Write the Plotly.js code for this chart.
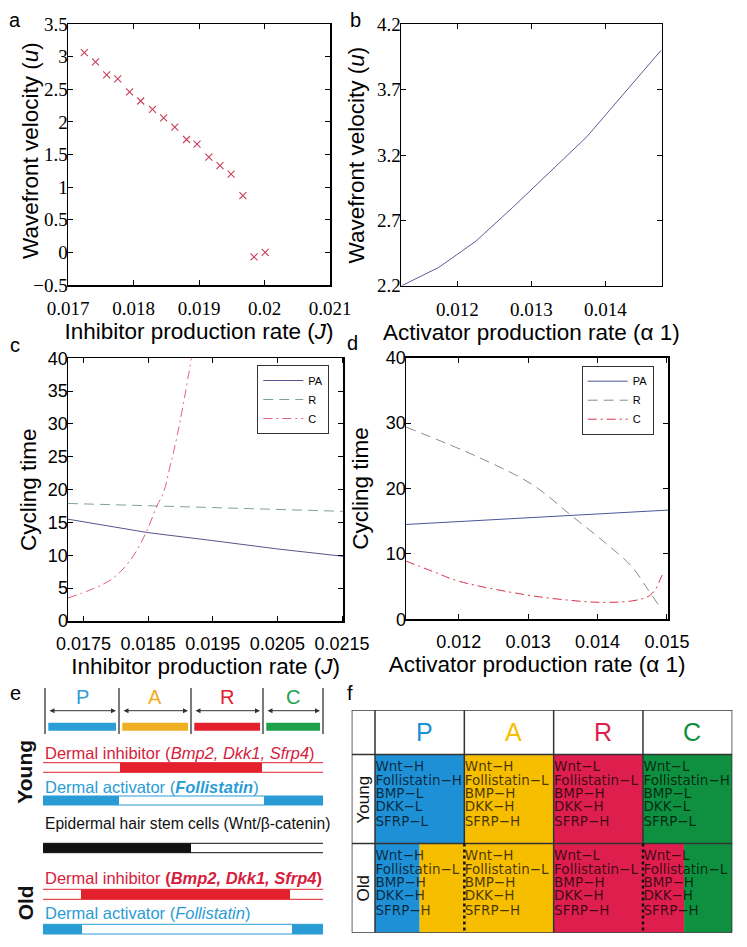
<!DOCTYPE html>
<html><head><meta charset="utf-8">
<script src="https://cdn.plot.ly/plotly-3.0.1.min.js"></script>
<style>body{margin:0;background:#fff}#chart{width:747px;height:947px}</style>
</head><body><div id="chart"></div>
<script>
// ================= DATA =================
// Panel a: wavefront velocity vs inhibitor production rate J
const aJ = [0.01725,0.01742,0.01759,0.01776,0.01794,0.01811,0.01829,0.01846,0.01863,0.01881,0.01897,0.01915,0.01932,0.01949,0.01967,0.01984,0.02001];
const aU = [3.06,2.92,2.72,2.66,2.46,2.32,2.19,2.06,1.92,1.73,1.66,1.46,1.33,1.20,0.87,-0.07,0.00];
const aXTicks = [0.017,0.018,0.019,0.020,0.021];
const aXTickText = ['0.017','0.018','0.019','0.02','0.021'];
const aYTicks = [-0.5,0,0.5,1,1.5,2,2.5,3,3.5];
const aYTickText = ['\u22120.5','0','0.5','1','1.5','2','2.5','3','3.5'];

// Panel b: wavefront velocity vs activator production rate alpha1
const bAlpha = [0.01125,0.01175,0.01225,0.01275,0.01325,0.01375,0.01425,0.01475];
const bU = [2.20,2.34,2.54,2.80,3.07,3.34,3.67,4.00];
const bXTicks = [0.012,0.013,0.014];
const bXTickText = ['0.012','0.013','0.014'];
const bYTicks = [2.2,2.7,3.2,3.7,4.2];
const bYTickText = ['2.2','2.7','3.2','3.7','4.2'];

// Panel c: cycling time vs J
const cJ_PA = [0.01726,0.0185,0.0195,0.0205,0.02152];
const cPA   = [15.5,13.45,12.24,10.97,9.85];
const cJ_R  = [0.01726,0.0195,0.02152];
const cR    = [17.9,17.3,16.7];
const cJ_C  = [0.01726,0.01791,0.01822,0.01846,0.01864,0.01874,0.01884,0.01890,0.01900,0.01917];
const cC    = [3.5,6.2,9.2,13.3,17.6,19.6,23.6,26.0,30.7,40.0];
const cXTicks = [0.0175,0.0185,0.0195,0.0205,0.0215];
const cXTickText = ['0.0175','0.0185','0.0195','0.0205','0.0215'];
const cYTicks = [0,5,10,15,20,25,30,35,40];

// Panel d: cycling time vs alpha1
const dA_PA = [0.01124,0.01363,0.01502];
const dPA   = [14.5,15.9,16.7];
const dA_R  = [0.01124,0.01230,0.01306,0.01363,0.01411,0.01449,0.01473,0.01488];
const dR    = [29.4,24.7,20.6,15.8,11.7,8.1,4.5,2.2];
const dA_C  = [0.01124,0.01163,0.01201,0.01297,0.01354,0.01402,0.01449,0.01473,0.01483,0.01492,0.01496];
const dC    = [8.9,7.3,5.8,3.74,2.97,2.6,2.8,3.5,4.5,6.5,7.3];
const dXTicks = [0.012,0.013,0.014,0.015];
const dXTickText = ['0.012','0.013','0.014','0.015'];
const dYTicks = [0,10,20,30,40];

const seriesNames = ['PA','R','C'];

// Panel e: phase diagram (phase extents along the cycle, as drawn)
const phases = ['P','A','R','C'];
const phaseEdges = [0, 74, 146, 218, 278];
const trackExtent = [-2, 278];
const youngInhibitorHigh = [[75, 217]];
const youngActivatorHigh = [[-2, 74], [219, 278]];
const wntHigh = [[-2, 146]];
const oldInhibitorHigh = [[36, 245]];
const oldActivatorHigh = [[-2, 37], [247, 278]];

// Panel f: state table
const youngStates = [
  ['Wnt\u2212H','Follistatin\u2212H','BMP\u2212L','DKK\u2212L','SFRP\u2212L'],
  ['Wnt\u2212H','Follistatin\u2212L','BMP\u2212H','DKK\u2212H','SFRP\u2212H'],
  ['Wnt\u2212L','Follistatin\u2212L','BMP\u2212H','DKK\u2212H','SFRP\u2212H'],
  ['Wnt\u2212L','Follistatin\u2212H','BMP\u2212L','DKK\u2212L','SFRP\u2212L']];
const oldStates = [
  ['Wnt\u2212H','Follistatin\u2212L','BMP\u2212H','DKK\u2212H','SFRP\u2212H'],
  ['Wnt\u2212H','Follistatin\u2212L','BMP\u2212H','DKK\u2212H','SFRP\u2212H'],
  ['Wnt\u2212L','Follistatin\u2212L','BMP\u2212H','DKK\u2212H','SFRP\u2212H'],
  ['Wnt\u2212L','Follistatin\u2212L','BMP\u2212H','DKK\u2212H','SFRP\u2212H']];
// old-row cells split between two phase colours: [left phase, right phase, split fraction]
const oldCellPhases = [['P','A',0.5],['A','A',1],['R','R',1],['R','C',0.46]];
const oldDottedBoundaries = [1, 3];

// ================= STYLE / LAYOUT =================
const W = 747, H = 947;
const px = v => v / W;
const py = v => 1 - v / H;
const SANS = 'Liberation Sans, Arial, sans-serif';
const SERIF = 'Liberation Serif, Times New Roman, serif';

const eCol = {P:'#2B9ED8', A:'#F0AE22', R:'#E3202C', C:'#1DA04C'};
const fCol = {P:'#1E90D6', A:'#F7BE00', R:'#DE1F4E', C:'#0E9040'};
const inhibRed = '#E3202C', inhibText = '#D6203C', actBlue = '#2A9CD5';

const axBase = {showline:true, linecolor:'#000', linewidth:1.5, mirror:'ticks', ticks:'inside',
  ticklen:5, tickwidth:1, tickcolor:'#000', showgrid:false, zeroline:false, fixedrange:true,
  tickmode:'array'};
const titleFont = {family:SANS, size:22.5, color:'#000'};

const traces = [];
traces.push({type:'scatter', mode:'markers', x:aJ, y:aU, xaxis:'x', yaxis:'y', showlegend:false,
  marker:{symbol:'x-thin', size:7, color:'#C8405A', line:{width:1.1, color:'#C8405A'}}, hoverinfo:'skip'});
traces.push({type:'scatter', mode:'lines', x:bAlpha, y:bU, xaxis:'x2', yaxis:'y2', showlegend:false,
  line:{color:'#5C5C98', width:1}, hoverinfo:'skip'});

const cStyles = [
  {color:'#55558E', dash:'solid', shape:'linear'},
  {color:'#7FA290', dash:'10px,6px', shape:'linear'},
  {color:'#E2607E', dash:'9px,4px,2px,4px', shape:'spline'}];
const dStyles = [
  {color:'#4A5698', dash:'solid', shape:'linear'},
  {color:'#8A8A8A', dash:'10px,6px', shape:'spline'},
  {color:'#D8304E', dash:'9px,4px,2px,4px', shape:'spline'}];
[[cJ_PA,cPA],[cJ_R,cR],[cJ_C,cC]].forEach((s,i)=>traces.push({type:'scatter', mode:'lines',
  x:s[0], y:s[1], xaxis:'x3', yaxis:'y3', name:seriesNames[i], legend:'legend',
  line:{color:cStyles[i].color, dash:cStyles[i].dash, shape:cStyles[i].shape, width:1}, hoverinfo:'skip'}));
[[dA_PA,dPA],[dA_R,dR],[dA_C,dC]].forEach((s,i)=>traces.push({type:'scatter', mode:'lines',
  x:s[0], y:s[1], xaxis:'x4', yaxis:'y4', name:seriesNames[i], legend:'legend2',
  line:{color:dStyles[i].color, dash:dStyles[i].dash, shape:dStyles[i].shape, width:1}, hoverinfo:'skip'}));

// Panel f text (one text point per line)
const rowLineOffsets = [0.15,0.30,0.45,0.60,0.76];
const fx = [], fy = [], ft = [];
[youngStates, oldStates].forEach((rows, r) => {
  rows.forEach((lines, c) => {
    lines.forEach((t, k) => { fx.push(c + 0.005); fy.push(0.5 + r + rowLineOffsets[k]); ft.push(t); });
  });
});
traces.push({type:'scatter', mode:'text', x:fx, y:fy, text:ft, textposition:'middle right',
  xaxis:'x6', yaxis:'y6', showlegend:false, hoverinfo:'skip',
  textfont:{family:'DejaVu Sans, sans-serif', size:13.5, color:'rgba(0,0,0,0.72)'}});

const shapes = [];
const annotations = [];

// ---- Panel e ----
const eRow = {sepTop:688, sepBot:734, letter:697, arrow:710.7, barTop:722.7, barBot:730.7};
phaseEdges.forEach(e => shapes.push({type:'line', xref:'x5', yref:'y5', x0:e, x1:e, y0:eRow.sepTop, y1:eRow.sepBot,
  line:{color:'#222', width:1.2}}));
phases.forEach((p,i) => {
  const a = phaseEdges[i], b = phaseEdges[i+1];
  annotations.push({xref:'x5', yref:'y5', x:(a+b)/2, y:eRow.letter, xanchor:'center', yanchor:'middle', text:p, showarrow:false,
    font:{family:SANS, size:20, color:eCol[p]}});
  annotations.push({xref:'x5', yref:'y5', axref:'x5', ayref:'y5', x:b-3, y:eRow.arrow, ax:a+3, ay:eRow.arrow,
    text:'', showarrow:true, arrowside:'end+start', arrowhead:2, arrowsize:1, arrowwidth:1, arrowcolor:'#333'});
  shapes.push({type:'rect', xref:'x5', yref:'y5', x0:a+3.3, x1:b-3, y0:eRow.barTop, y1:eRow.barBot,
    fillcolor:eCol[p], line:{width:0}});
});
function track(y0, y1, color, highs) {
  shapes.push({type:'line', xref:'x5', yref:'y5', x0:trackExtent[0], x1:trackExtent[1], y0:y0, y1:y0, line:{color:color, width:1}});
  shapes.push({type:'line', xref:'x5', yref:'y5', x0:trackExtent[0], x1:trackExtent[1], y0:y1, y1:y1, line:{color:color, width:1}});
  highs.forEach(h => shapes.push({type:'rect', xref:'x5', yref:'y5', x0:h[0], x1:h[1], y0:y0, y1:y1,
    fillcolor:color, line:{width:0}}));
}
function eText(y, html, color, size) {
  annotations.push({xref:'x5', yref:'y5', x:trackExtent[0], y:y, xanchor:'left', yanchor:'middle', text:html, showarrow:false,
    font:{family:SANS, size:size || 16.5, color:color}});
}
eText(752.7, 'Dermal inhibitor (<i>Bmp2, Dkk1, Sfrp4</i>)', inhibText);
track(762.7, 772.3, inhibRed, youngInhibitorHigh);
eText(786.7, 'Dermal activator (<b><i>Follistatin</i></b>)', actBlue);
track(796, 805, actBlue, youngActivatorHigh);
eText(823.3, 'Epidermal hair stem cells (Wnt/\u03b2-catenin)', '#111', 15.6);
track(843.3, 852.7, '#111', wntHigh);
eText(878.3, 'Dermal inhibitor <b>(<i>Bmp2, Dkk1, Sfrp4</i>)</b>', inhibText);
track(889.3, 899.3, inhibRed, oldInhibitorHigh);
eText(912.7, 'Dermal activator (<i>Follistatin</i>)', actBlue);
track(924.3, 934, actBlue, oldActivatorHigh);
annotations.push({xref:'paper', yref:'paper', x:px(25), y:py(771.7), xanchor:'center', yanchor:'middle',
  text:'<b>Young</b>', textangle:-90, showarrow:false, font:{family:SANS, size:21, color:'#111'}});
annotations.push({xref:'paper', yref:'paper', x:px(25), y:py(903.3), xanchor:'center', yanchor:'middle',
  text:'<b>Old</b>', textangle:-90, showarrow:false, font:{family:SANS, size:21, color:'#111'}});

// ---- Panel f ----
phases.forEach((p,i) => {
  shapes.push({type:'rect', xref:'x6', yref:'y6', x0:i, x1:i+1, y0:0.5, y1:1.5, fillcolor:fCol[p], line:{width:0}, layer:'below'});
  const o = oldCellPhases[i];
  shapes.push({type:'rect', xref:'x6', yref:'y6', x0:i, x1:i+o[2], y0:1.5, y1:2.5, fillcolor:fCol[o[0]], line:{width:0}, layer:'below'});
  if (o[2] < 1) shapes.push({type:'rect', xref:'x6', yref:'y6', x0:i+o[2], x1:i+1, y0:1.5, y1:2.5, fillcolor:fCol[o[1]], line:{width:0}, layer:'below'});
  annotations.push({xref:'x6', yref:'y6', x:i+0.55, y:0.25, xanchor:'center', yanchor:'middle', text:p, showarrow:false,
    font:{family:SANS, size:25, color:fCol[p]}});
});
const gridC = '#333';
[0, 0.5, 1.5, 2.5].forEach(y => shapes.push({type:'line', xref:'x6', yref:'y6', x0:-0.261, x1:4, y0:y, y1:y, line:{color:gridC, width:1.5}}));
[-0.261, 0, 4].forEach(x => shapes.push({type:'line', xref:'x6', yref:'y6', x0:x, x1:x, y0:0, y1:2.5, line:{color:gridC, width:1.5}}));
[1,2,3].forEach(x => {
  shapes.push({type:'line', xref:'x6', yref:'y6', x0:x, x1:x, y0:0, y1:1.5, line:{color:gridC, width:1.5}});
  if (oldDottedBoundaries.includes(x))
    shapes.push({type:'line', xref:'x6', yref:'y6', x0:x, x1:x, y0:1.5, y1:2.5, line:{color:'#111', width:2.5, dash:'dot'}});
  else
    shapes.push({type:'line', xref:'x6', yref:'y6', x0:x, x1:x, y0:1.5, y1:2.5, line:{color:gridC, width:1.5}});
});
annotations.push({xref:'x6', yref:'y6', x:-0.13, y:1.0, xanchor:'center', yanchor:'middle', text:'Young', textangle:-90, showarrow:false, font:{family:SANS, size:17, color:'#111'}});
annotations.push({xref:'x6', yref:'y6', x:-0.13, y:2.0, xanchor:'center', yanchor:'middle', text:'Old', textangle:-90, showarrow:false, font:{family:SANS, size:17, color:'#111'}});

// panel letters
[['a',15,20],['b',355,20],['c',15,345],['d',352,343],['e',15,693],['f',350,693]].forEach(l =>
  annotations.push({xref:'paper', yref:'paper', x:px(l[1]), y:py(l[2]), xanchor:'center', yanchor:'middle',
    text:l[0], showarrow:false, font:{family:SANS, size:20, color:'#000'}}));

// panel a y-axis title (placed to match the reference spacing)
annotations.push({xref:'paper', yref:'paper', x:px(30), y:py(151), xanchor:'center', yanchor:'middle',
  text:'Wavefront velocity (<i>u</i>)', textangle:-90, showarrow:false, font:titleFont});

const tfSerif = {family:SERIF, size:19, color:'#000'};
const tfSans = {family:SANS, size:18, color:'#000'};
const legendBase = {xanchor:'left', yanchor:'top', bordercolor:'#333', borderwidth:1, bgcolor:'#fff',
  font:{family:SANS, size:11, color:'#000'}, tracegroupgap:0, itemwidth:40};

const layout = {
  width:W, height:H, margin:{l:0,r:0,t:0,b:0}, paper_bgcolor:'#fff', plot_bgcolor:'rgba(0,0,0,0)',
  showlegend:true,
  xaxis: Object.assign({}, axBase, {domain:[px(68),px(330)], range:[0.017,0.021], anchor:'y',
    tickvals:aXTicks, ticktext:aXTickText, tickfont:tfSerif, ticklabelstandoff:6,
    title:{text:'Inhibitor production rate (<i>J</i>)', font:titleFont, standoff:0}}),
  yaxis: Object.assign({}, axBase, {domain:[py(285),py(24)], range:[-0.5,3.5], anchor:'x',
    tickvals:aYTicks, ticktext:aYTickText, tickfont:tfSerif, ticklabelstandoff:-5}),
  xaxis2: Object.assign({}, axBase, {domain:[px(401),px(661.7)], range:[0.01124,0.01476], anchor:'y2',
    tickvals:bXTicks, ticktext:bXTickText, tickfont:tfSerif, ticklabelstandoff:6,
    title:{text:'Activator production rate (\u03b1 1)', font:titleFont, standoff:0}}),
  yaxis2: Object.assign({}, axBase, {domain:[py(285.7),py(24.3)], range:[2.2,4.2], anchor:'x2',
    tickvals:bYTicks, ticktext:bYTickText, tickfont:tfSerif, ticklabelstandoff:-5,
    title:{text:'Wavefront velocity (<i>u</i>)', font:titleFont, standoff:6}}),
  xaxis3: Object.assign({}, axBase, {domain:[px(68),px(343.3)], range:[0.01726,0.02152], anchor:'y3',
    tickvals:cXTicks, ticktext:cXTickText, tickfont:tfSans, ticklabelstandoff:6,
    title:{text:'Inhibitor production rate (<i>J</i>)', font:titleFont, standoff:0}}),
  yaxis3: Object.assign({}, axBase, {domain:[py(621),py(358.3)], range:[0,40], anchor:'x3',
    tickvals:cYTicks, tickfont:tfSans, ticklabelstandoff:-5,
    title:{text:'Cycling time', font:titleFont, standoff:5}}),
  xaxis4: Object.assign({}, axBase, {domain:[px(406),px(668.3)], range:[0.01124,0.01502], anchor:'y4',
    tickvals:dXTicks, ticktext:dXTickText, tickfont:tfSans, ticklabelstandoff:6,
    title:{text:'Activator production rate (\u03b1 1)', font:titleFont, standoff:0}}),
  yaxis4: Object.assign({}, axBase, {domain:[py(619.3),py(357.7)], range:[0,40], anchor:'x4',
    tickvals:dYTicks, tickfont:tfSans, ticklabelstandoff:-5,
    title:{text:'Cycling time', font:titleFont, standoff:11}}),
  xaxis5: {domain:[px(43),px(325)], range:[-2,280], visible:false, fixedrange:true, anchor:'y5'},
  yaxis5: {domain:[0, py(680)], range:[947,680], visible:false, fixedrange:true, anchor:'x5'},
  xaxis6: {domain:[px(351.7),px(732.3)], range:[-0.261,4], visible:false, fixedrange:true, anchor:'y6'},
  yaxis6: {domain:[py(932.7),py(710)], range:[2.5,0], visible:false, fixedrange:true, anchor:'x6'},
  legend: Object.assign({}, legendBase, {x:px(257.3), y:py(365)}),
  legend2: Object.assign({}, legendBase, {x:px(581.7), y:py(365.7)}),
  shapes: shapes,
  annotations: annotations
};

Plotly.newPlot('chart', traces, layout, {displayModeBar:false, staticPlot:true});
</script>
</body></html>
